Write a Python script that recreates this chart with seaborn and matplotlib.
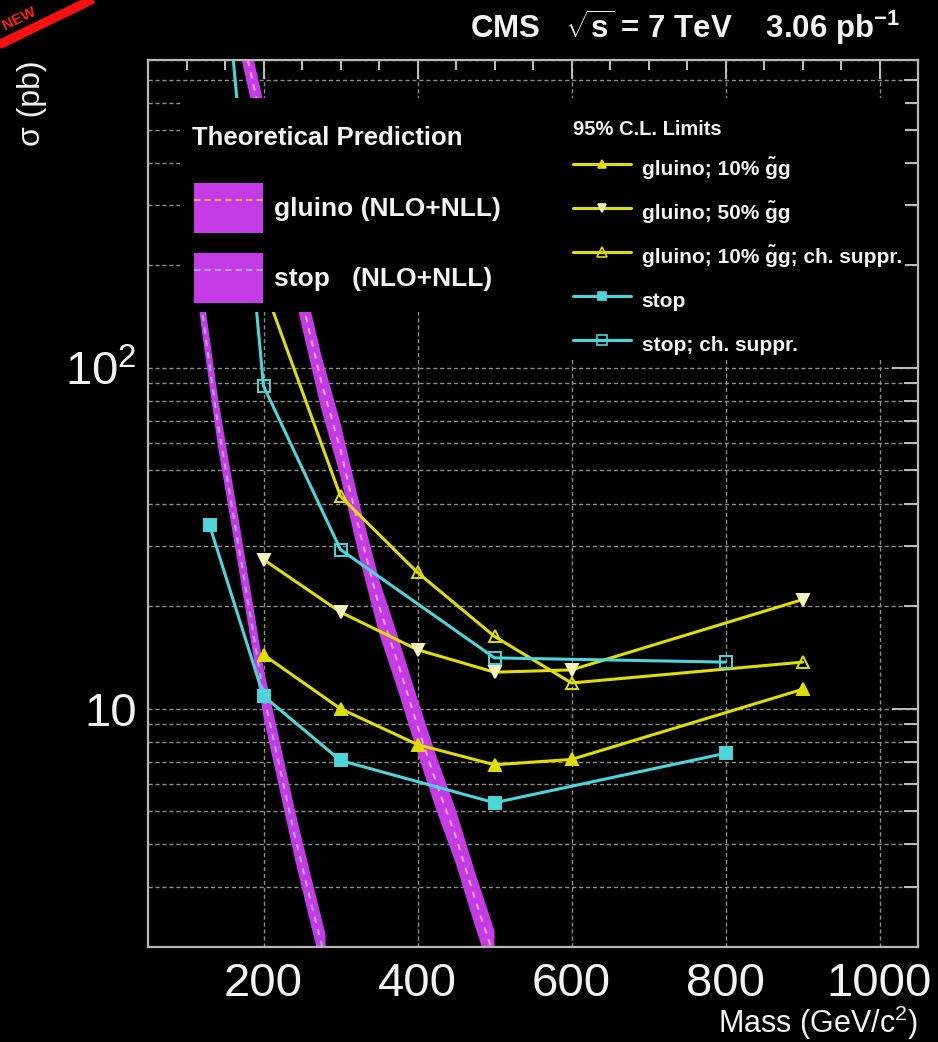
import matplotlib
matplotlib.use("Agg")
import matplotlib.pyplot as plt
from matplotlib.lines import Line2D
from matplotlib.patches import Patch, Rectangle
from matplotlib.legend_handler import HandlerTuple
from matplotlib.ticker import MultipleLocator, LogLocator, NullFormatter, FuncFormatter
import seaborn as sns

# ---------------- data ----------------
stop_mass = [130, 200, 300, 500, 800]
stop_limit = [34.5, 10.9, 7.05, 5.3, 7.4]
stop_cs_mass = [130, 200, 300, 500, 800]
stop_cs_limit = [4500, 88.5, 29.3, 14.1, 13.7]
gl10_mass = [200, 300, 400, 500, 600, 900]
gl10_limit = [14.4, 10.0, 7.85, 6.85, 7.1, 11.4]
gl50_mass = [200, 300, 400, 500, 600, 900]
gl50_limit = [27.4, 19.2, 14.9, 12.8, 13.0, 20.9]
gl10cs_mass = [200, 300, 400, 500, 600, 900]
gl10cs_limit = [175, 42.0, 25.1, 16.3, 11.9, 13.7]

stop_th_mass = [100, 120, 140, 160, 180, 200, 220, 240, 260, 280]
stop_th_xsec = [330, 148, 70, 38, 20.5, 11.0, 6.9, 4.3, 2.8, 1.85]
gluino_th_mass = [150, 175, 200, 225, 250, 275, 300, 325, 350, 375, 400, 425, 450, 475, 500]
gluino_th_xsec = [1600, 890, 500, 280, 158, 91, 57.5, 33, 20, 13.5, 8.9, 6.0, 4.2, 2.75, 1.86]

limit_labels = ["gluino; 10% g\u0303g", "gluino; 50% g\u0303g",
                "gluino; 10% g\u0303g; ch. suppr.", "stop", "stop; ch. suppr."]
theory_labels = ["gluino (NLO+NLL)", "stop   (NLO+NLL)"]

# ---------------- style ----------------
sns.set_style("dark", {"axes.facecolor": "black", "figure.facecolor": "black"})
FAM = ["Liberation Sans", "DejaVu Sans"]
plt.rcParams["font.family"] = FAM
plt.rcParams["mathtext.fontset"] = "custom"
plt.rcParams["mathtext.rm"] = "Liberation Sans"
plt.rcParams["mathtext.bf"] = "Liberation Sans:bold"
plt.rcParams["mathtext.it"] = "Liberation Sans:italic"

YEL = "#e0de00"
CYA = "#4cd6d9"
MAG = "#c53be6"
CREAM = "#f6f2c0"
WHITE = "#f2f2f2"

W, H = 938, 1042
fig = plt.figure(figsize=(W / 100, H / 100), dpi=100, facecolor="black")
L, R, T, B = 148, 918, 60, 947
ax = fig.add_axes([L / W, 1 - B / H, (R - L) / W, (B - T) / H])
ax.set_facecolor("black")
ax.set_yscale("log")
ax.set_xlim(50, 1050)
ax.set_ylim(2, 800)

# ---------------- theory bands ----------------
st_lo = [v / 1.18 for v in stop_th_xsec]
st_hi = [v * 1.18 for v in stop_th_xsec]
gl_lo = [v / 1.2 for v in gluino_th_xsec]
gl_hi = [v * 1.2 for v in gluino_th_xsec]
ax.fill_between(stop_th_mass, st_lo, st_hi, color=MAG, lw=0, zorder=2)
ax.fill_between(gluino_th_mass, gl_lo, gl_hi, color=MAG, lw=0, zorder=2)
sns.lineplot(x=stop_th_mass, y=stop_th_xsec, ax=ax, color="#b0a8ff", linestyle=(0, (3, 3)),
             linewidth=1.5, legend=False, zorder=2.5, estimator=None, sort=False)
sns.lineplot(x=gluino_th_mass, y=gluino_th_xsec, ax=ax, color="#f0a0c8", linestyle=(0, (3, 3)),
             linewidth=1.5, legend=False, zorder=2.5, estimator=None, sort=False)

# ---------------- limit curves ----------------
series = [
    (gl10_mass, gl10_limit, YEL, "^", YEL, 8),
    (gl50_mass, gl50_limit, YEL, "v", CREAM, 8),
    (gl10cs_mass, gl10cs_limit, YEL, "^", "none", 9),
    (stop_mass, stop_limit, CYA, "s", CYA, 8),
    (stop_cs_mass, stop_cs_limit, CYA, "s", "none", 9),
]
handles = []
for xs, ys, col, mk, face, ms in series:
    edge = col if face == "none" else face
    sns.lineplot(x=xs, y=ys, ax=ax, color=col, marker=mk, markersize=ms, linewidth=2.2,
                 markerfacecolor=face, markeredgecolor=edge, markeredgewidth=1.4,
                 legend=False, zorder=3, estimator=None, sort=False)
    handles.append(Line2D([], [], color=col, marker=mk, markersize=ms * 0.8, linewidth=2.2,
                          markerfacecolor=face, markeredgecolor=edge, markeredgewidth=1.2))

# ---------------- axes decoration ----------------
ax.set_axisbelow(True)
ax.xaxis.set_major_locator(MultipleLocator(200))
ax.xaxis.set_minor_locator(MultipleLocator(50))
ax.yaxis.set_major_locator(LogLocator(base=10))
ax.yaxis.set_minor_locator(LogLocator(base=10, subs=range(2, 10)))
ax.yaxis.set_minor_formatter(NullFormatter())
ax.yaxis.set_major_formatter(FuncFormatter(lambda v, p: "10" if abs(v - 10) < 1e-6 else r"$10^{2}$"))
ax.xaxis.set_major_formatter(FuncFormatter(lambda v, p: f"{int(v)}"))

gkw = dict(color="#8e8e8e", linestyle=(0, (3, 2)), linewidth=1.0)
ax.grid(True, which="both", axis="y", **gkw)
ax.grid(True, which="major", axis="x", **gkw)

for s in ax.spines.values():
    s.set_color("#b8b8b8")
    s.set_linewidth(1.6)
    s.set_visible(True)

ax.tick_params(axis="both", which="both", direction="in", top=True, right=True,
               color="#c0c0c0", width=1.4, labelcolor=WHITE)
ax.tick_params(axis="x", which="major", length=14, labelsize=34, pad=11)
ax.tick_params(axis="x", which="minor", length=7)
ax.tick_params(axis="y", which="major", length=19, labelsize=34, pad=8)
ax.tick_params(axis="y", which="minor", length=10)

ax.set_xlabel(r"Mass (GeV/c$^{2}$)", fontsize=22, color=WHITE, loc="right")
ax.xaxis.set_label_coords(1.0, (B - 1004) / (B - T))
ax.set_ylabel("\u03c3 (pb)", fontsize=23, color=WHITE, loc="top")
ax.yaxis.set_label_coords((47 - L) / (R - L), 1.0)

# ---------------- legend backgrounds ----------------
for (x0, y0, x1, y1) in [(180, 98, 560, 312), (560, 98, 905, 360)]:
    ax.add_patch(Rectangle((x0 / W, 1 - y1 / H), (x1 - x0) / W, (y1 - y0) / H,
                           transform=fig.transFigure, facecolor="black", edgecolor="none", zorder=4))

th_handles = [
    (Patch(facecolor=MAG, edgecolor="none"), Line2D([], [], color="#e8a070", ls=(0, (3, 2)), lw=1.5)),
    (Patch(facecolor=MAG, edgecolor="none"), Line2D([], [], color="#a8a0ff", ls=(0, (3, 2)), lw=1.5)),
]
leg1 = ax.legend(th_handles, theory_labels, handler_map={tuple: HandlerTuple(ndivide=1, pad=0)},
                 loc="upper left", bbox_to_anchor=(194 / W, 1 - 183 / H), bbox_transform=fig.transFigure,
                 frameon=False, prop={"family": FAM, "weight": "bold", "size": 19},
                 handlelength=2.6, handleheight=2.54, labelspacing=0.76,
                 handletextpad=0.45, borderpad=0, borderaxespad=0, labelcolor=WHITE)
ax.add_artist(leg1)
fig.text(192 / W, 1 - 138 / H, "Theoretical Prediction", ha="left", va="center",
         fontsize=18.5, fontweight="bold", color=WHITE, zorder=6)

leg2 = ax.legend(handles, limit_labels, loc="upper left", bbox_to_anchor=(573 / W, 1 - 120 / H),
                 bbox_transform=fig.transFigure, frameon=False,
                 prop={"family": FAM, "weight": "bold", "size": 15},
                 title="95% C.L. Limits",
                 title_fontproperties={"family": FAM, "weight": "bold", "size": 14.5},
                 alignment="left", handlelength=2.8, handleheight=1.84, handletextpad=0.5,
                 labelspacing=0.67, borderpad=0, borderaxespad=0, numpoints=1, labelcolor=WHITE)
leg2.get_title().set_color(WHITE)

# ---------------- title and corner stamp ----------------
fig.text(900 / W, 1 - 38 / H, r"CMS   $\sqrt{\mathbf{s}}$ = 7 TeV    3.06 pb$^{\mathbf{-1}}$",
         ha="right", va="baseline", fontsize=22.5, fontweight="bold", color=WHITE)
fig.add_artist(Line2D([-20 / W, 120 / W], [1 - 54 / H, 1 + 14 / H], transform=fig.transFigure,
                      color="#ff1010", linewidth=6.5, solid_capstyle="butt"))
fig.text(5 / W, 1 - 30 / H, "NEW", color="#ff2020", fontsize=11, fontweight="bold",
         rotation=26, ha="left", va="baseline", rotation_mode="anchor")

fig.savefig("out.png", dpi=100, facecolor="black")
